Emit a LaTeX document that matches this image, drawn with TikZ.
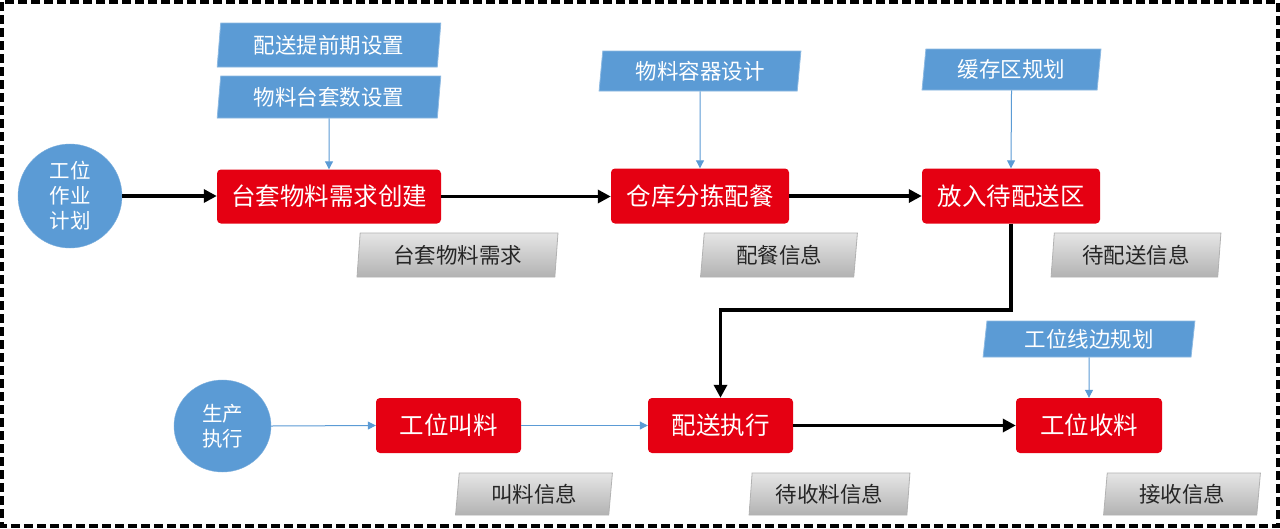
\documentclass[tikz,border=0pt]{standalone}
\usepackage{fontspec}
\setmainfont{Noto Sans CJK SC}
\usetikzlibrary{shapes.geometric,arrows.meta}
\definecolor{cblue}{HTML}{5B9BD5}
\definecolor{cred}{HTML}{E50012}
\definecolor{ctext}{HTML}{262626}
\tikzset{
  redbox/.style={draw=none,fill=cred,rounded corners=4pt,text=white,font=\fontsize{24.5}{28}\selectfont,minimum height=55pt,inner sep=0pt},
  bluepar/.style={trapezium,trapezium stretches=true,trapezium left angle=83,trapezium right angle=97,fill=cblue,draw=cblue!70!white,line width=0.8pt,text=white,font=\fontsize{21.5}{24}\selectfont,inner sep=0pt},
  greypar/.style={trapezium,trapezium stretches=true,trapezium left angle=84,trapezium right angle=96,top color=black!10,bottom color=black!30,draw=black!30,line width=0.8pt,text=ctext,font=\fontsize{21.5}{24}\selectfont,minimum height=43pt,inner sep=0pt},
  circ/.style={ellipse,fill=cblue,draw=cblue!80!white,text=white,font=\fontsize{20.5}{25}\selectfont,align=center,inner sep=0pt},
  bigarrow/.style={line width=3.5pt,-{Triangle[length=13pt,width=13pt]}},
  thinarrow/.style={draw=cblue,line width=1pt,-{Triangle[length=8pt,width=8pt]}},
  frame/.style={line width=4pt,dash pattern=on 9pt off 4pt}
}
\begin{document}
\begin{tikzpicture}[x=1pt,y=-1pt]
\useasboundingbox (0,0) rectangle (1280,528);
\fill[white] (0,0) rectangle (1280,528);
\draw[frame] (2,2) rectangle (1278,526);

% circles
\node[circ,minimum width=104pt,minimum height=104pt] (c1) at (70,196) {工位\\作业\\计划};
\node[circ,minimum width=97pt,minimum height=92pt] (c2) at (222.5,426) {生产\\执行};

% red process boxes
\node[redbox,minimum width=224pt,minimum height=54pt] (r1) at (329,196.5) {台套物料需求创建};
\node[redbox,minimum width=178pt] (r2) at (700,196) {仓库分拣配餐};
\node[redbox,minimum width=178pt] (r3) at (1011,196) {放入待配送区};
\node[redbox,minimum width=145pt] (r4) at (448.5,425.5) {工位叫料};
\node[redbox,minimum width=145pt] (r5) at (720.5,425.5) {配送执行};
\node[redbox,minimum width=146pt] (r6) at (1089,425.5) {工位收料};

% blue inputs
\node[bluepar,minimum width=224pt,minimum height=44pt] (b1) at (329,45) {配送提前期设置};
\node[bluepar,minimum width=224pt,minimum height=42pt] (b2) at (329,97) {物料台套数设置};
\node[bluepar,minimum width=202pt,minimum height=40pt] (b3) at (700,71) {物料容器设计};
\node[bluepar,minimum width=179pt,minimum height=41pt] (b4) at (1011.5,69.5) {缓存区规划};
\node[bluepar,minimum width=212pt,minimum height=36pt] (b5) at (1089,339) {工位线边规划};

% grey outputs
\node[greypar,minimum width=201pt,minimum height=44pt] (g1) at (457.5,255) {台套物料需求};
\node[greypar,minimum width=158pt,minimum height=44pt] (g2) at (779,255) {配餐信息};
\node[greypar,minimum width=170pt,minimum height=44pt] (g3) at (1136,255) {待配送信息};
\node[greypar,minimum width=158pt,minimum height=42pt] (g4) at (534,494) {叫料信息};
\node[greypar,minimum width=161pt,minimum height=42pt] (g5) at (829.5,494) {待收料信息};
\node[greypar,minimum width=158pt,minimum height=42pt] (g6) at (1182,494) {接收信息};

% main flow
\draw[bigarrow] (c1.east) -- (c1.east -| r1.west);
\draw[bigarrow] (r1.east) -- (r1.east -| r2.west);
\draw[bigarrow] (r2.east) -- (r3.west);
\coordinate (bend) at (r3.south |- 0,310);
\draw[bigarrow] (r3.south) -- (bend) -| (r5.north);
\draw[bigarrow] (r5.east) -- (r6.west);

% thin blue arrows
\draw[thinarrow] (b2.south) -- (r1.north);
\draw[thinarrow] (b3.south) -- (r2.north);
\draw[thinarrow] (b4.south) -- (r3.north);
\draw[thinarrow] (b5.south) -- (r6.north);
\draw[thinarrow] (c2.east) -- (r4.west);
\draw[thinarrow] (r4.east) -- (r5.west);
\end{tikzpicture}
\end{document}
